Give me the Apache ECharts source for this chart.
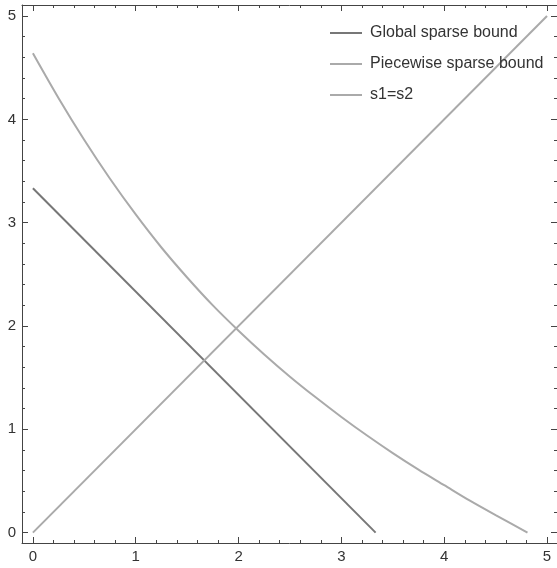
<!DOCTYPE html>
<html>
<head>
<meta charset="utf-8">
<script src="https://cdn.jsdelivr.net/npm/echarts@6/dist/echarts.min.js"></script>
<style>
  html, body { margin: 0; padding: 0; background: #fff; }
  #chart { width: 557px; height: 568px; }
</style>
</head>
<body>
<div id="chart"></div>
<script>
// curves
const globalBound = [[0, 3.333], [3.333, 0]]
const piecewiseX = [0, 0.25, 0.5, 0.75, 1, 1.25, 1.5, 1.75, 2, 2.25, 2.5, 2.75, 3, 3.25, 3.5, 3.75, 4, 4.25, 4.5, 4.81]
const piecewiseY = [4.64, 4.205, 3.8, 3.425, 3.08, 2.76, 2.47, 2.2, 1.955, 1.725, 1.51, 1.31, 1.12, 0.94, 0.77, 0.61, 0.46, 0.31, 0.17, 0]
const diagonal = [[0, 0], [5, 5]]

const majorTicks = [0, 1, 2, 3, 4, 5]
const minorTicks = [0.2, 0.4, 0.6, 0.8, 1.2, 1.4, 1.6, 1.8, 2.2, 2.4, 2.6, 2.8,
  3.2, 3.4, 3.6, 3.8, 4.2, 4.4, 4.6, 4.8]

const xRange = { min: -0.106, max: 5.097 }
const yRange = { min: -0.1, max: 5.107 }

const frameColor = '#444'
const fontFamily = 'Liberation Sans, Arial, sans-serif'
const labelStyle = { color: '#333', fontSize: 15, fontFamily: fontFamily }

function makeAxis(position, range, ticks, len, withLine, withLabel) {
  return {
    type: 'value',
    position: position,
    min: range.min,
    max: range.max,
    splitLine: { show: false },
    axisLine: { show: withLine, onZero: false, lineStyle: { color: frameColor, width: 1 } },
    axisTick: { show: true, inside: true, length: len, customValues: ticks, lineStyle: { color: frameColor, width: 1 } },
    axisLabel: withLabel
      ? Object.assign({ show: true, margin: 6, customValues: majorTicks }, labelStyle)
      : { show: false }
  }
}

const chart = echarts.init(document.getElementById('chart'))

chart.setOption({
  animation: false,
  grid: { left: 22, right: -3, top: 5, bottom: 25 },
  legend: {
    orient: 'vertical',
    left: 325,
    top: 20,
    icon: 'rect',
    itemWidth: 32,
    itemHeight: 2,
    itemGap: 15,
    textStyle: { color: '#333', fontSize: 16, lineHeight: 16, padding: [0, 0, 0, 3], fontFamily: fontFamily },
    data: ['Global sparse bound', 'Piecewise sparse bound', 's1=s2']
  },
  xAxis: [
    makeAxis('bottom', xRange, majorTicks, 6, true, true),
    makeAxis('bottom', xRange, minorTicks, 3, false, false),
    makeAxis('top', xRange, majorTicks, 6, true, false),
    makeAxis('top', xRange, minorTicks, 3, false, false)
  ],
  yAxis: [
    makeAxis('left', yRange, majorTicks, 6, true, true),
    makeAxis('left', yRange, minorTicks, 3, false, false),
    makeAxis('right', yRange, majorTicks, 6, true, false),
    makeAxis('right', yRange, minorTicks, 3, false, false)
  ],
  series: [
    {
      name: 'Global sparse bound',
      type: 'line',
      symbol: 'none',
      data: globalBound,
      lineStyle: { color: '#777', width: 2 },
      itemStyle: { color: '#777' }
    },
    {
      name: 'Piecewise sparse bound',
      type: 'line',
      symbol: 'none',
      smooth: 0.3,
      data: piecewiseX.map((x, i) => [x, piecewiseY[i]]),
      lineStyle: { color: '#aaa', width: 2 },
      itemStyle: { color: '#aaa' }
    },
    {
      name: 's1=s2',
      type: 'line',
      symbol: 'none',
      data: diagonal,
      lineStyle: { color: '#aaa', width: 2 },
      itemStyle: { color: '#aaa' }
    }
  ]
})
</script>
</body>
</html>
